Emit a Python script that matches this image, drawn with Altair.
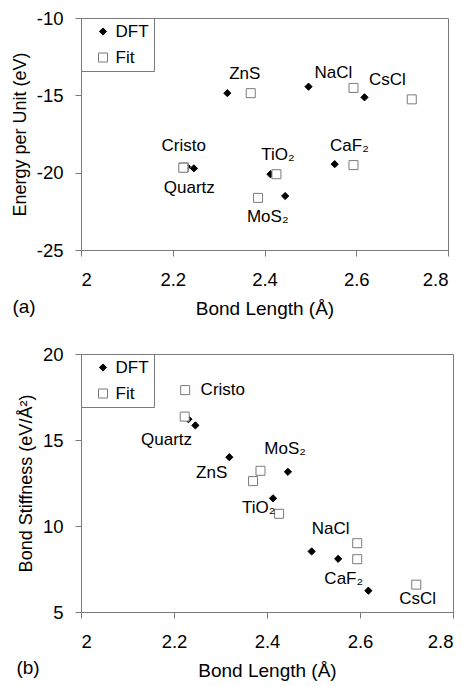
import altair as alt
import pandas as pd

# ---- data ----
compounds = ["Cristo", "Quartz", "ZnS", "MoS2", "TiO2", "NaCl", "CaF2", "CsCl"]
label_text = ["Cristo", "Quartz", "ZnS", "MoS₂", "TiO₂", "NaCl", "CaF₂", "CsCl"]
series_names = ["DFT", "Fit"]

dft_bond = [2.231, 2.246, 2.319, 2.445, 2.413, 2.496, 2.553, 2.618]
fit_bond = [2.224, 2.223, 2.370, 2.386, 2.426, 2.594, 2.594, 2.721]

dft_energy = [-19.61, -19.72, -14.86, -21.51, -20.10, -14.44, -19.45, -15.13]
fit_energy = [-19.66, -19.68, -14.86, -21.63, -20.10, -14.52, -19.51, -15.26]

dft_stiff = [16.21, 15.85, 14.00, 13.15, 11.61, 8.52, 8.09, 6.24]
fit_stiff = [17.90, 16.36, 12.61, 13.21, 10.71, 9.00, 8.07, 6.59]

# label anchor points (data coordinates)
a_label_x = [2.224, 2.236, 2.357, 2.407, 2.429, 2.550, 2.585, 2.668]
a_label_y = [-18.27, -20.98, -13.62, -22.87, -18.88, -13.53, -18.25, -14.04]
b_label_x = [2.305, 2.184, 2.281, 2.439, 2.382, 2.537, 2.565, 2.724]
b_label_y = [17.88, 15.00, 13.08, 14.48, 11.06, 9.80, 6.94, 5.73]

x_ticks = [2, 2.2, 2.4, 2.6, 2.8]
a_y_ticks = [-25, -20, -15, -10]
b_y_ticks = [5, 10, 15, 20]

FONT = "Liberation Sans"
GRAY = "#7a7a7a"
DIAMOND = "M0,-0.8L0.8,0L0,0.8L-0.8,0Z"


def long_points(dft_y, fit_y):
    rows = []
    for i, c in enumerate(compounds):
        rows.append({"compound": c, "series": "DFT", "x": dft_bond[i], "y": dft_y[i]})
    for i, c in enumerate(compounds):
        rows.append({"compound": c, "series": "Fit", "x": fit_bond[i], "y": fit_y[i]})
    return pd.DataFrame(rows)


def panel(dft_y, fit_y, lab_x, lab_y, y_title, y_ticks, tag, w, h, tag_dx, tag_dy):
    pts = long_points(dft_y, fit_y)
    labels = pd.DataFrame({"x": lab_x, "y": lab_y, "t": label_text})
    tagdf = pd.DataFrame({"t": [tag]})

    xenc = alt.X("x:Q", scale=alt.Scale(domain=[2, 2.8], nice=False, zero=False, padding=0),
                 axis=alt.Axis(values=x_ticks, format="~g", title="Bond Length (Å)"))
    yenc = alt.Y("y:Q", scale=alt.Scale(domain=[y_ticks[0], y_ticks[-1]], nice=False, zero=False, padding=0),
                 axis=alt.Axis(values=y_ticks, labelExpr="'' + datum.value", title=y_title))

    leg = alt.Legend(title=None, orient="top-left", offset=0,
                     labelExpr="datum.label + '  '")

    points = alt.Chart(pts).mark_point(opacity=1, strokeWidth=1, size=81).encode(
        x=xenc,
        y=yenc,
        shape=alt.Shape("series:N", scale=alt.Scale(domain=series_names, range=[DIAMOND, "square"]), legend=leg),
        fill=alt.Fill("series:N", scale=alt.Scale(domain=series_names, range=["black", "white"]), legend=leg),
        stroke=alt.Stroke("series:N", scale=alt.Scale(domain=series_names, range=["black", GRAY]), legend=leg),
    )

    text = alt.Chart(labels).mark_text(fontSize=17, font=FONT, color="black",
                                       align="center", baseline="middle").encode(
        x="x:Q", y="y:Q", text="t:N")

    tagm = alt.Chart(tagdf).mark_text(fontSize=19, font=FONT, color="black",
                                      align="center", baseline="middle").encode(
        x=alt.value(tag_dx), y=alt.value(h + tag_dy), text="t:N")

    return alt.layer(points, text, tagm).properties(width=w, height=h)


a = panel(dft_energy, fit_energy, a_label_x, a_label_y, "Energy per Unit (eV)",
          a_y_ticks, "(a)", 367, 232, -57, 57)
b = panel(dft_stiff, fit_stiff, b_label_x, b_label_y, "Bond Stiffness (eV/Å²)",
          b_y_ticks, "(b)", 372, 258, -53, 56)

chart = alt.concat(a, b, columns=1, spacing=25, align="none").resolve_scale(
    shape="independent", fill="independent", stroke="independent"
).resolve_legend(
    shape="independent", fill="independent", stroke="independent"
).configure(
    font=FONT, padding={"left": 3, "top": 0, "right": 0, "bottom": 0}
).configure_view(
    stroke=GRAY, strokeWidth=1
).configure_axis(
    grid=False, domainColor=GRAY, tickColor=GRAY, tickSize=6,
    labelFontSize=18.5, labelColor="black", titleColor="black",
    titleFontWeight="normal", labelFont=FONT, titleFont=FONT
).configure_axisX(
    titlePadding=10.8, labelPadding=14, titleFontSize=19
).configure_axisY(
    titlePadding=6.5, labelPadding=12, titleFontSize=18
).configure_legend(
    strokeColor=GRAY, fillColor="white", padding=5, symbolOffset=8.5,
    labelFontSize=17, labelFont=FONT, labelColor="black", symbolSize=81,
    symbolStrokeWidth=1, rowPadding=8, labelOffset=4, cornerRadius=0
)

chart.save("out.html", embed_options={"renderer": "svg", "actions": False})
